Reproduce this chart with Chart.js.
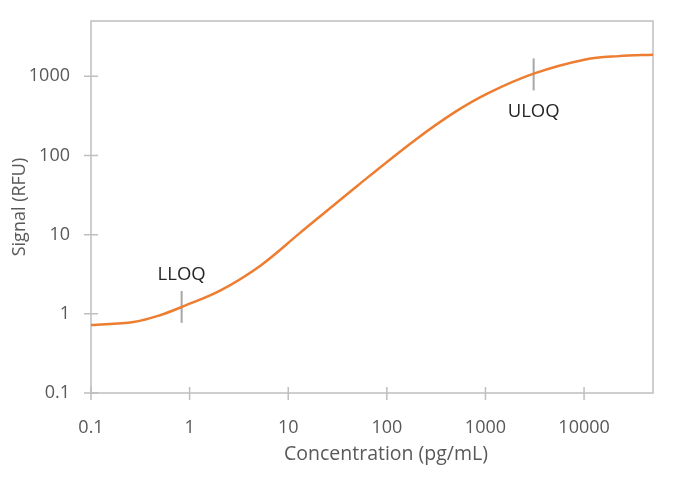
<!DOCTYPE html>
<html>
<head>
<meta charset="utf-8">
<script src="https://cdn.jsdelivr.net/npm/chart.js@4.4.1/dist/chart.umd.min.js"></script>
<style>
  html, body { margin: 0; padding: 0; background: #fff; }
  #wrap { width: 694px; height: 483px; }
</style>
</head>
<body>
<div id="wrap"><canvas id="curve"></canvas></div>
<script>
// Standard curve
const concentration = [0.1, 0.27, 0.5, 0.83, 2.06, 5.26, 12.9, 50.8, 191, 489, 1069, 3080, 10300, 22500, 51600];
const signal = [0.72, 0.79, 0.96, 1.22, 1.98, 4.09, 10.3, 41.9, 155, 353, 614, 1080, 1633, 1800, 1875];

// Limits of quantification
const limitNames = ["LLOQ", "ULOQ"];
const limitConc = [0.83, 3080];
const limitLow = [0.77, 664];
const limitHigh = [1.94, 1683];
const limitLabelY = [3.16, 353];

const xTicks = [0.1, 1, 10, 100, 1000, 10000];
const yTicks = [0.1, 1, 10, 100, 1000];
const xTitle = 'Concentration (pg/mL)';

const font = "'Open Sans', sans-serif";
const gray = '#bfbfbf';

const curveData = concentration.map((c, i) => ({ x: c, y: signal[i] }));
const limitSets = limitConc.map((c, i) => ({
    data: [{ x: c, y: limitLow[i] }, { x: c, y: limitHigh[i] }],
    borderColor: '#a6a6a6',
    borderWidth: 2,
    pointRadius: 0,
    tension: 0
}));

// frame, crossing tick marks, x title and LLOQ / ULOQ labels
const extras = {
    id: 'extras',
    beforeDatasetsDraw(chart) {
        const { ctx, chartArea: a, scales: { x, y } } = chart;
        ctx.save();
        ctx.strokeStyle = gray;
        ctx.lineWidth = 1.5;
        ctx.strokeRect(a.left, a.top, a.right - a.left, a.bottom - a.top);
        ctx.beginPath();
        xTicks.forEach(v => {
            const px = x.getPixelForValue(v);
            ctx.moveTo(px, a.bottom - 6);
            ctx.lineTo(px, a.bottom + 7);
        });
        yTicks.forEach(v => {
            const py = y.getPixelForValue(v);
            ctx.moveTo(a.left - 7, py);
            ctx.lineTo(a.left + 7, py);
        });
        ctx.stroke();

        // x axis title sits a little right of the plot centre
        ctx.fillStyle = '#595959';
        ctx.font = "19.5px " + font;
        ctx.textAlign = 'center';
        ctx.textBaseline = 'middle';
        ctx.fillText(xTitle, (a.left + a.right) / 2 + 14, a.bottom + 61);
        ctx.restore();
    },
    afterDatasetsDraw(chart) {
        const { ctx, scales: { x, y } } = chart;
        ctx.save();
        ctx.fillStyle = '#262626';
        ctx.font = "18.5px " + font;
        ctx.textAlign = 'center';
        ctx.textBaseline = 'middle';
        limitNames.forEach((n, i) => {
            ctx.fillText(n, x.getPixelForValue(limitConc[i]), y.getPixelForValue(limitLabelY[i]));
        });
        ctx.restore();
    }
};

new Chart(document.getElementById('curve'), {
    type: 'line',
    data: {
        datasets: [{
            data: curveData,
            borderColor: '#ed7d31',
            borderWidth: 2.5,
            pointRadius: 0,
            tension: 0.35
        }, ...limitSets]
    },
    options: {
        responsive: true,
        maintainAspectRatio: false,
        animation: false,
        layout: { padding: { top: 21, right: 41, left: 0, bottom: 0 } },
        plugins: { legend: { display: false }, tooltip: { enabled: false } },
        scales: {
            x: {
                type: 'logarithmic',
                min: 0.1,
                max: 50000,
                afterBuildTicks: s => { s.ticks = xTicks.map(v => ({ value: v })); },
                afterFit: s => { s.height = 90; s.paddingLeft = 0; s.paddingRight = 0; },
                grid: { display: false, drawTicks: false },
                border: { display: false },
                ticks: {
                    color: '#595959',
                    font: { family: font, size: 18 },
                    padding: 24,
                    maxRotation: 0,
                    callback: v => String(v)
                }
            },
            y: {
                type: 'logarithmic',
                min: 0.1,
                max: 5000,
                afterBuildTicks: s => { s.ticks = yTicks.map(v => ({ value: v })); },
                afterFit: s => { s.width = 91; s.paddingTop = 0; s.paddingBottom = 0; },
                grid: { display: false, drawTicks: false },
                border: { display: false },
                ticks: {
                    color: '#595959',
                    font: { family: font, size: 18 },
                    padding: 21,
                    callback: v => String(v)
                },
                title: {
                    display: true,
                    text: 'Signal (RFU)',
                    color: '#595959',
                    font: { family: font, size: 18 },
                    padding: { top: 9, bottom: 0 }
                }
            }
        }
    },
    plugins: [extras]
});
</script>
</body>
</html>
